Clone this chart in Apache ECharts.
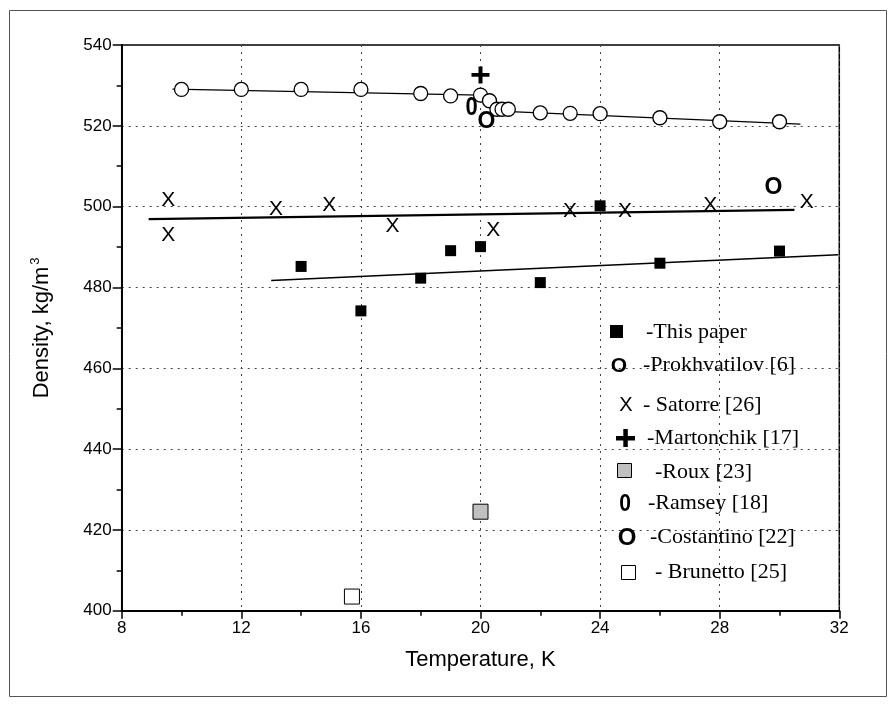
<!DOCTYPE html>
<html>
<head>
<meta charset="utf-8">
<script src="https://cdn.jsdelivr.net/npm/echarts@6/dist/echarts.min.js"></script>
<style>
html, body { margin: 0; padding: 0; background: #fff; }
#chart { width: 896px; height: 707px; }
</style>
</head>
<body>
<div id="chart"></div>
<script>
// data (T in K, density in kg/m3)
var tempThisPaper = [14, 16, 18, 19, 20, 22, 24, 26, 30];
var densThisPaper = [485.2, 474.2, 482.3, 489.1, 490.1, 481.2, 500.2, 486.0, 489.0];
var tempProkh = [10, 12, 14, 16, 18, 19, 20, 20.3, 20.55, 20.72, 20.93, 22, 23, 24, 26, 28, 30];
var densProkh = [529, 529, 529, 529, 528, 527.4, 527.6, 526.2, 524.1, 524.1, 524.1, 523.2, 523.1, 523, 522, 521, 521];
var tempSatorre = [9.56, 9.56, 13.16, 14.94, 17.06, 20.43, 22.99, 24.83, 27.68, 30.91];
var densSatorre = [501.7, 493.0, 499.4, 500.4, 495.1, 494.2, 498.8, 498.8, 500.4, 501.0];
var tempMartonchik = [20.0];
var densMartonchik = [532.6];
var tempRoux = [20.0];
var densRoux = [424.5];
var tempRamsey = [19.7];
var densRamsey = [524.3];
var tempCostantino = [20.2, 29.8];
var densCostantino = [521.0, 504.6];
var tempBrunetto = [15.7];
var densBrunetto = [403.5];

// trend lines
var fitThisT = [13.0, 31.96];
var fitThisD = [481.7, 488.1];
var fitSatorreT = [8.9, 30.5];
var fitSatorreD = [496.9, 499.2];
var fitProkhT = [9.7, 20.0, 21.0, 30.7];
var fitProkhD = [529.1, 527.6, 523.5, 520.4];

var xTickMin = 8, xTickMax = 32, xTickStep = 4;
var yTickMin = 400, yTickMax = 540, yTickStep = 20;

function zip(a, b) {
    return a.map(function(v, i) { return [v, b[i]]; });
}

// letters used as markers (X, 0, O) placed through the axes
function textSeries(name, pts, ch, font, sx) {
    return {
        name: name,
        type: 'custom',
        data: pts,
        z: 6,
        renderItem: function(params, api) {
            var p = api.coord([api.value(0), api.value(1)]);
            return {
                type: 'text',
                x: p[0],
                y: p[1],
                scaleX: sx || 1,
                style: { text: ch, font: font, fill: '#000', align: 'center', verticalAlign: 'middle' }
            };
        }
    };
}

var chartDom = document.getElementById('chart');
var myChart = echarts.init(chartDom);

var legendFont = '22px "Liberation Serif", "Times New Roman", serif';
var legendRows = [
    { y: 332, x: 646, text: '-This paper' },
    { y: 365, x: 643, text: '-Prokhvatilov [6]' },
    { y: 405, x: 643, text: '- Satorre [26]' },
    { y: 438, x: 647, text: '-Martonchik [17]' },
    { y: 472, x: 655, text: '-Roux [23]' },
    { y: 503, x: 648, text: '-Ramsey [18]' },
    { y: 537, x: 650, text: '-Costantino [22]' },
    { y: 572, x: 655, text: '- Brunetto [25]' }
];

var graphics = [
    // outer frame
    { type: 'rect', shape: { x: 9.5, y: 10.5, width: 877, height: 686 },
      style: { fill: 'none', stroke: '#555', lineWidth: 1 }, silent: true },
    // legend symbols
    { type: 'rect', shape: { x: 610, y: 325, width: 13, height: 13 }, style: { fill: '#000' }, z: 10 },
    { type: 'text', x: 619, y: 366, style: { text: 'O', font: 'bold 21px "Liberation Sans", Arial, sans-serif', fill: '#000', align: 'center', verticalAlign: 'middle' }, z: 10 },
    { type: 'text', x: 626, y: 405, style: { text: 'X', font: '20px "Liberation Sans", Arial, sans-serif', fill: '#000', align: 'center', verticalAlign: 'middle' }, z: 10 },
    { type: 'rect', shape: { x: 616, y: 436, width: 19, height: 4.5 }, style: { fill: '#000' }, z: 10 },
    { type: 'rect', shape: { x: 623.3, y: 429, width: 4.5, height: 18 }, style: { fill: '#000' }, z: 10 },
    { type: 'rect', shape: { x: 617.5, y: 463.5, width: 14, height: 14 }, style: { fill: '#c0c0c0', stroke: '#000', lineWidth: 1 }, z: 10 },
    { type: 'text', x: 625, y: 504, scaleX: 0.88, style: { text: '0', font: 'bold 24px "Liberation Sans", Arial, sans-serif', fill: '#000', align: 'center', verticalAlign: 'middle' }, z: 10 },
    { type: 'text', x: 627, y: 538, style: { text: 'O', font: 'bold 24px "Liberation Sans", Arial, sans-serif', fill: '#000', align: 'center', verticalAlign: 'middle' }, z: 10 },
    { type: 'rect', shape: { x: 621.5, y: 565.5, width: 14, height: 14 }, style: { fill: '#fff', stroke: '#000', lineWidth: 1 }, z: 10 }
];
legendRows.forEach(function(r) {
    graphics.push({ type: 'text', x: r.x, y: r.y, z: 10,
        style: { text: r.text, font: legendFont, fill: '#000', align: 'left', verticalAlign: 'middle' } });
});

var option = {
    backgroundColor: '#fff',
    animation: false,
    grid: {
        left: 121.7,
        right: 56.7,
        top: 45,
        bottom: 96.3,
        show: true,
        borderColor: '#000',
        borderWidth: 1.5,
        backgroundColor: 'transparent'
    },
    xAxis: {
        type: 'value',
        min: xTickMin,
        max: xTickMax,
        interval: xTickStep,
        name: 'Temperature, K',
        nameLocation: 'middle',
        nameGap: 38,
        nameTextStyle: { color: '#000', fontSize: 22, fontFamily: '"Liberation Sans Narrow", "Liberation Sans", Arial, sans-serif' },
        axisLine: { lineStyle: { color: '#000', width: 2 } },
        axisTick: { inside: false, length: 8, lineStyle: { color: '#000', width: 1.5 } },
        minorTick: { show: true, splitNumber: 2, length: 5, lineStyle: { color: '#000', width: 1.5 } },
        axisLabel: { color: '#000', fontSize: 17, margin: 9, fontFamily: '"Liberation Sans", Arial, sans-serif' },
        splitLine: { show: true, lineStyle: { color: '#444', width: 1, type: [2, 5] } }
    },
    yAxis: {
        type: 'value',
        min: yTickMin,
        max: yTickMax,
        interval: yTickStep,
        name: '{n|Density, kg/m}{s|3}',
        nameLocation: 'middle',
        nameRotate: 90,
        nameGap: 66,
        nameTextStyle: {
            color: '#000',
            rich: {
                n: { fontSize: 22, color: '#000', fontFamily: '"Liberation Sans Narrow", "Liberation Sans", Arial, sans-serif' },
                s: { fontSize: 13, color: '#000', verticalAlign: 'top', padding: [0, 0, 14, 2], fontFamily: '"Liberation Sans", Arial, sans-serif' }
            }
        },
        axisLine: { lineStyle: { color: '#000', width: 2 } },
        axisTick: { inside: false, length: 9, lineStyle: { color: '#000', width: 1.5 } },
        minorTick: { show: true, splitNumber: 2, length: 5, lineStyle: { color: '#000', width: 1.5 } },
        axisLabel: { color: '#000', fontSize: 17, margin: 10, fontFamily: '"Liberation Sans", Arial, sans-serif' },
        splitLine: { show: true, lineStyle: { color: '#444', width: 1, type: [2, 5] } }
    },
    graphic: graphics,
    series: [
        {
            name: 'Prokhvatilov fit',
            type: 'line',
            data: zip(fitProkhT, fitProkhD),
            symbol: 'none',
            lineStyle: { color: '#000', width: 1.3 },
            z: 2
        },
        {
            name: 'Satorre fit',
            type: 'line',
            data: zip(fitSatorreT, fitSatorreD),
            symbol: 'none',
            lineStyle: { color: '#000', width: 2.2 },
            z: 2
        },
        {
            name: 'This paper fit',
            type: 'line',
            data: zip(fitThisT, fitThisD),
            symbol: 'none',
            lineStyle: { color: '#000', width: 1.6 },
            z: 2
        },
        {
            name: 'Prokhvatilov [6]',
            type: 'scatter',
            data: zip(tempProkh, densProkh),
            symbol: 'circle',
            symbolSize: 14,
            itemStyle: { color: '#fff', borderColor: '#000', borderWidth: 1.3, opacity: 1 },
            z: 4
        },
        {
            name: 'This paper',
            type: 'scatter',
            data: zip(tempThisPaper, densThisPaper),
            symbol: 'rect',
            symbolSize: 11,
            itemStyle: { color: '#000', opacity: 1 },
            z: 4
        },
        {
            name: 'Martonchik [17]',
            type: 'scatter',
            data: zip(tempMartonchik, densMartonchik),
            symbol: 'path://M7,0H11V7H18V11H11V18H7V11H0V7H7Z',
            symbolSize: [18, 17],
            itemStyle: { color: '#000', opacity: 1 },
            z: 4
        },
        {
            name: 'Roux [23]',
            type: 'scatter',
            data: zip(tempRoux, densRoux),
            symbol: 'rect',
            symbolSize: 15,
            itemStyle: { color: '#c0c0c0', borderColor: '#000', borderWidth: 1, opacity: 1 },
            z: 4
        },
        {
            name: 'Brunetto [25]',
            type: 'scatter',
            data: zip(tempBrunetto, densBrunetto),
            symbol: 'rect',
            symbolSize: 15,
            itemStyle: { color: '#fff', borderColor: '#000', borderWidth: 1, opacity: 1 },
            z: 4
        },
        textSeries('Satorre [26]', zip(tempSatorre, densSatorre), 'X', '21px "Liberation Sans", Arial, sans-serif'),
        textSeries('Ramsey [18]', zip(tempRamsey, densRamsey), '0', 'bold 25px "Liberation Sans", Arial, sans-serif', 0.88),
        textSeries('Costantino [22]', zip(tempCostantino, densCostantino), 'O', 'bold 23px "Liberation Sans", Arial, sans-serif')
    ]
};

myChart.setOption(option);
</script>
</body>
</html>
